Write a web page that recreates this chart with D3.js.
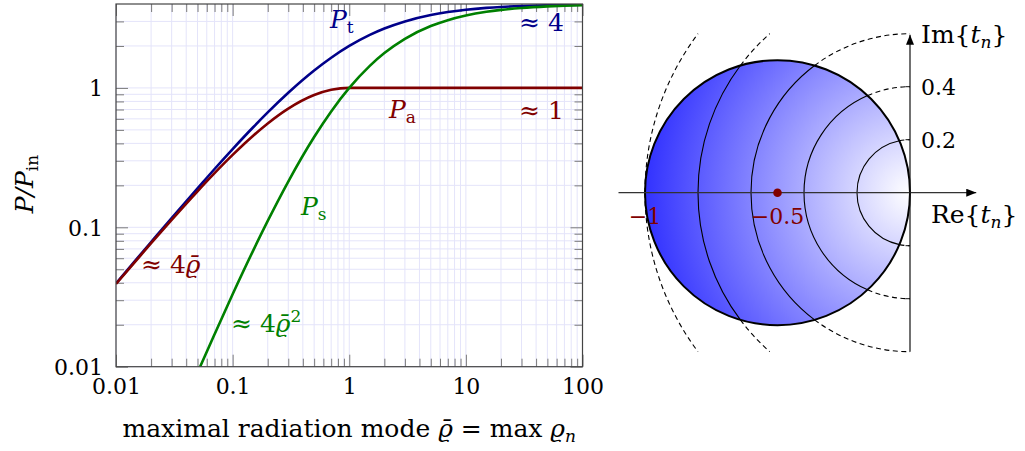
<!DOCTYPE html>
<html>
<head>
<meta charset="utf-8">
<script src="https://cdn.jsdelivr.net/npm/d3@7"></script>
<style>
  body { margin: 0; background: #fff; }
  svg { display: block; font-family: "DejaVu Serif", serif; }
</style>
</head>
<body>
<svg id="chart" width="1025" height="451"></svg>
<script>
'use strict'

// maximal radiation mode values (x) and the three power curves
const rhoValues = [0.01, 0.015, 0.02, 0.03, 0.05, 0.07, 0.1, 0.15, 0.2, 0.3, 0.5, 0.7, 1,
  1.5, 2, 3, 5, 7, 10, 15, 20, 30, 50, 70, 100]
const totalPower = [0.0396, 0.0591, 0.0784, 0.1165, 0.19, 0.262, 0.364, 0.522, 0.667, 0.923, 1.333, 1.647, 2.0,
  2.4, 2.667, 3.0, 3.333, 3.5, 3.636, 3.75, 3.81, 3.87, 3.92, 3.94, 3.96]
const absorbedPower = [0.0392, 0.0582, 0.0769, 0.1131, 0.1814, 0.2446, 0.3306, 0.4537, 0.5556, 0.7101, 0.8889, 0.9689, 1.0,
  1, 1, 1, 1, 1, 1, 1, 1, 1, 1, 1, 1]
const scatteredPower = [0.000392, 0.000873, 0.00154, 0.00339, 0.00907, 0.0171, 0.0331, 0.0681, 0.1111, 0.213, 0.4444, 0.6782, 1.0,
  1.44, 1.778, 2.25, 2.778, 3.0625, 3.306, 3.516, 3.628, 3.746, 3.845, 3.89, 3.92]

const xTicks = [0.01, 0.1, 1, 10, 100]
const xTickLabels = ['0.01', '0.1', '1', '10', '100']
const yTicks = [0.01, 0.1, 1]
const yTickLabels = ['0.01', '0.1', '1']

// right panel: contour radii |t_n| and imaginary axis ticks
const contourRadii = [0.2, 0.4, 0.6, 0.8, 1.0]
const imTicks = [-0.4, -0.2, 0.2, 0.4]
const imTickLabels = ['', '', '0.2', '0.4']
const reLabels = [{ value: -1, text: '\u22121' }, { value: -0.5, text: '\u22120.5' }]
const optimumPoint = [-0.5, 0]

const svg = d3.select('#chart')
const blue = '#00008a', red = '#800000', green = '#008000'
const gridColor = '#e4e4fa'
const fontSize = 25, numSize = 22, subSize = 17

// ---------- left panel ----------
const plot = { left: 116, right: 582.5, top: 4, bottom: 366.7 }
const x = d3.scaleLog().domain([0.01, 100]).range([plot.left, plot.right])
const y = d3.scaleLog().domain([0.01, 4]).range([plot.bottom, plot.top])

const minorX = []
for (let e = -2; e < 2; e++) for (let m = 2; m <= 9; m++) minorX.push(m * Math.pow(10, e))
const minorY = []
for (let e = -2; e < 1; e++) for (let m = 2; m <= 9; m++) {
  const v = m * Math.pow(10, e)
  if (v < 4) minorY.push(v)
}

const grid = svg.append('g')
grid.selectAll('.gx').data(minorX.concat(xTicks)).enter().append('line')
  .attr('x1', d => x(d)).attr('x2', d => x(d))
  .attr('y1', plot.top).attr('y2', plot.bottom)
  .attr('stroke', gridColor).attr('stroke-width', 1)
grid.selectAll('.gy').data(minorY.concat(yTicks)).enter().append('line')
  .attr('y1', d => y(d)).attr('y2', d => y(d))
  .attr('x1', plot.left).attr('x2', plot.right)
  .attr('stroke', gridColor).attr('stroke-width', 1)

// inward ticks on all four sides
function tickAxis(axis, size, values, transform, labels) {
  const g = svg.append('g')
    .attr('transform', transform)
    .call(axis.tickValues(values).tickSize(size).tickFormat((d, i) => labels ? labels[i] : ''))
  g.select('.domain').remove()
  g.selectAll('.tick line').attr('stroke', '#7a7a7a')
  g.selectAll('text').attr('font-size', numSize).attr('fill', '#000')
    .attr('font-family', '"DejaVu Serif", serif')
  return g
}
const gxb = tickAxis(d3.axisBottom(x), -12, xTicks, `translate(0,${plot.bottom})`, xTickLabels)
gxb.selectAll('text').attr('y', 12).attr('dy', '0.71em')
tickAxis(d3.axisBottom(x), -8, minorX, `translate(0,${plot.bottom})`)
tickAxis(d3.axisTop(x), -12, xTicks, `translate(0,${plot.top})`)
tickAxis(d3.axisTop(x), -8, minorX, `translate(0,${plot.top})`)
const gyl = tickAxis(d3.axisLeft(y), -12, yTicks, `translate(${plot.left},0)`, yTickLabels)
gyl.selectAll('text').attr('x', -13).attr('dy', '0.36em')
tickAxis(d3.axisLeft(y), -8, minorY, `translate(${plot.left},0)`)
tickAxis(d3.axisRight(y), -12, yTicks, `translate(${plot.right},0)`)
tickAxis(d3.axisRight(y), -8, minorY, `translate(${plot.right},0)`)

svg.append('defs').append('clipPath').attr('id', 'plotClip')
  .append('rect').attr('x', plot.left).attr('y', plot.top)
  .attr('width', plot.right - plot.left).attr('height', plot.bottom - plot.top)

const line = d3.line().x(d => x(d[0])).y(d => y(d[1])).curve(d3.curveMonotoneX)
const curves = [
  { values: totalPower, color: blue },
  { values: absorbedPower, color: red },
  { values: scatteredPower, color: green }
]
svg.append('g').attr('clip-path', 'url(#plotClip)')
  .selectAll('path').data(curves).enter().append('path')
  .attr('d', c => line(rhoValues.map((r, i) => [r, c.values[i]])))
  .attr('fill', 'none').attr('stroke', c => c.color).attr('stroke-width', 2.6)
  .attr('stroke-linejoin', 'round')

svg.append('rect')
  .attr('x', plot.left).attr('y', plot.top)
  .attr('width', plot.right - plot.left).attr('height', plot.bottom - plot.top)
  .attr('fill', 'none').attr('stroke', '#444').attr('stroke-width', 1.2)

// curve annotations
function powerLabel(px, py, sub, color) {
  const t = svg.append('text').attr('x', px).attr('y', py).attr('fill', color).attr('font-size', fontSize)
  t.append('tspan').attr('font-style', 'italic').text('P')
  t.append('tspan').attr('font-size', subSize).attr('dy', 5).text(sub)
}
powerLabel(330, 28, 't', blue)
powerLabel(389, 118, 'a', red)
powerLabel(301, 215, 's', green)

function approxLabel(px, py, txt, color, rho, sq) {
  const t = svg.append('text').attr('x', px).attr('y', py).attr('fill', color).attr('font-size', fontSize)
  t.append('tspan').text('\u2248 ' + txt)
  if (rho) t.append('tspan').attr('font-style', 'italic').text('\u03f1\u0304')
  if (sq) t.append('tspan').attr('font-size', subSize).attr('dy', -10).text('2')
}
approxLabel(519, 31, '4', blue)
approxLabel(519, 119, '1', red)
approxLabel(141, 273, '4', red, true)
approxLabel(231, 332, '4', green, true, true)

// axis titles
const xTitle = svg.append('text').attr('x', (plot.left + plot.right) / 2).attr('y', 437)
  .attr('text-anchor', 'middle').attr('font-size', fontSize)
xTitle.append('tspan').text('maximal radiation mode ')
xTitle.append('tspan').attr('font-style', 'italic').text('\u03f1\u0304')
xTitle.append('tspan').text(' = max ')
xTitle.append('tspan').attr('font-style', 'italic').text('\u03f1')
xTitle.append('tspan').attr('font-style', 'italic').attr('font-size', subSize).attr('dy', 5).text('n')

const yTitle = svg.append('text').attr('transform', 'translate(33,184) rotate(-90)')
  .attr('text-anchor', 'middle').attr('font-size', fontSize)
yTitle.append('tspan').attr('font-style', 'italic').text('P/P')
yTitle.append('tspan').attr('font-size', subSize).attr('dy', 5).text('in')

// ---------- right panel ----------
const re = d3.scaleLinear().domain([-1, 0]).range([645, 910])
const im = d3.scaleLinear().domain([-0.6, 0.6]).range([351.7, 33.7])
const unit = re(0) - re(-1)

const defs = svg.select('defs')
const grad = defs.append('radialGradient').attr('id', 'shade')
  .attr('gradientUnits', 'userSpaceOnUse')
  .attr('cx', re(0)).attr('cy', im(0)).attr('r', unit)
grad.append('stop').attr('offset', 0).attr('stop-color', '#ffffff')
grad.append('stop').attr('offset', 1).attr('stop-color', '#3232ff')

svg.append('circle')
  .attr('cx', re(-0.5)).attr('cy', im(0)).attr('r', re(0) - re(-0.5))
  .attr('fill', 'url(#shade)')

// contour circles |t| = r : solid inside the disk, dashed outside
const cx = re(0), cy = im(0)
contourRadii.forEach(r => {
  const R = r * unit
  const th0 = Math.acos(-r)
  const thMin = r > 0.6 ? Math.PI - Math.asin(0.6 / r) : Math.PI / 2
  if (th0 < Math.PI) {
    const p = d3.path()
    p.arc(cx, cy, R, th0, 2 * Math.PI - th0, false)
    svg.append('path').attr('d', p.toString()).attr('fill', 'none').attr('stroke', '#000').attr('stroke-width', 1.1)
  }
  const up = d3.path()
  up.arc(cx, cy, R, -th0, -thMin, false)
  const down = d3.path()
  down.arc(cx, cy, R, th0, thMin, true)
  ;[up, down].forEach(p => svg.append('path').attr('d', p.toString()).attr('fill', 'none')
    .attr('stroke', '#000').attr('stroke-width', 1.1).attr('stroke-dasharray', '5,3.5'))
})

svg.append('circle')
  .attr('cx', re(-0.5)).attr('cy', im(0)).attr('r', re(0) - re(-0.5))
  .attr('fill', 'none').attr('stroke', '#000').attr('stroke-width', 2)

// arrows
defs.append('marker').attr('id', 'arrow').attr('viewBox', '0 0 10 8')
  .attr('refX', 10).attr('refY', 4).attr('markerWidth', 10).attr('markerHeight', 8)
  .attr('markerUnits', 'userSpaceOnUse').attr('orient', 'auto')
  .append('path').attr('d', 'M0,0 L10,4 L0,8 Z').attr('fill', '#000')

svg.append('line')
  .attr('x1', re(-1.1)).attr('x2', re(0.25)).attr('y1', im(0)).attr('y2', im(0))
  .attr('stroke', '#333').attr('stroke-width', 1.3).attr('marker-end', 'url(#arrow)')
svg.append('line')
  .attr('x1', re(0)).attr('x2', re(0)).attr('y1', im(-0.6)).attr('y2', im(0.6) + 1)
  .attr('stroke', '#111').attr('stroke-width', 1.2).attr('marker-end', 'url(#arrow)')

svg.selectAll('.imtick').data(imTicks).enter().append('line')
  .attr('x1', re(0) - 4.5).attr('x2', re(0))
  .attr('y1', d => im(d)).attr('y2', d => im(d))
  .attr('stroke', '#111').attr('stroke-width', 1)
svg.selectAll('.imlabel').data(imTicks).enter().append('text')
  .attr('x', re(0) + 11).attr('y', d => im(d)).attr('dy', '0.36em')
  .attr('font-size', numSize).text((d, i) => imTickLabels[i])

svg.selectAll('.relabel').data(reLabels).enter().append('text')
  .attr('x', d => re(d.value)).attr('y', im(0) + 31)
  .attr('text-anchor', 'middle').attr('font-size', numSize).attr('fill', red)
  .text(d => d.text)

svg.append('circle').attr('cx', re(optimumPoint[0])).attr('cy', im(optimumPoint[1]))
  .attr('r', 4.3).attr('fill', red)

function complexLabel(px, py, part) {
  const t = svg.append('text').attr('x', px).attr('y', py).attr('font-size', fontSize)
  t.append('tspan').text(part + '{')
  t.append('tspan').attr('font-style', 'italic').text('t')
  t.append('tspan').attr('font-style', 'italic').attr('font-size', subSize).attr('dy', 5).text('n')
  t.append('tspan').attr('dy', -5).text('}')
}
complexLabel(921, 43, 'Im')
complexLabel(931, 223, 'Re')
</script>
</body>
</html>
